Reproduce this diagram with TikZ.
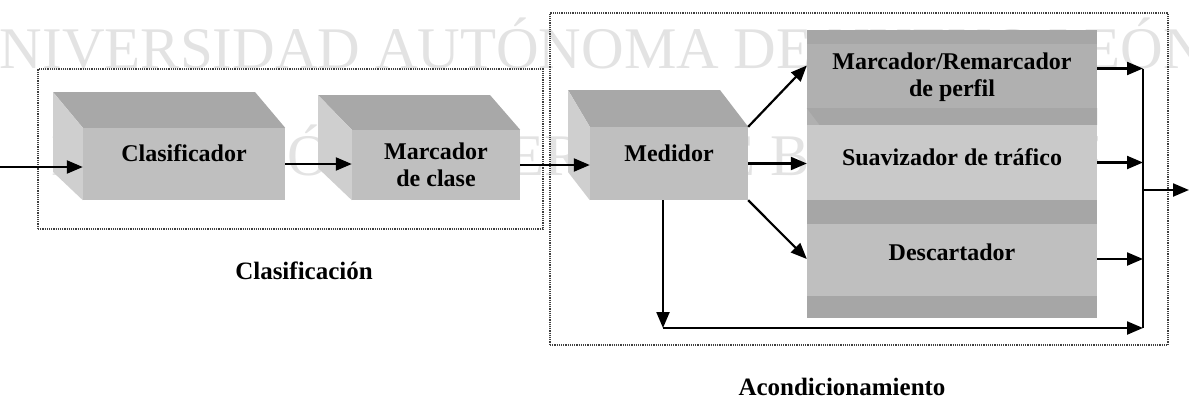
\documentclass[tikz,border=0pt]{standalone}
\usepackage{fontspec}
\setmainfont{Liberation Serif}
\usetikzlibrary{arrows.meta}

\tikzset{
  block/.style={fill=gray!50, inner sep=0pt, align=center,
    font=\bfseries\fontsize{24}{27}\selectfont},
  lift/.style={text height=16pt, text depth=#1},
  topface/.style={fill=gray!68},
  sideface/.style={fill=gray!38},
  darkband/.style={fill=gray!70},
  arr/.style={line width=2.2pt, -{Triangle[length=16pt,width=13pt]}},
  grpbox/.style={draw=black!75, densely dotted, line width=1.2pt, inner sep=0pt},
  capt/.style={font=\bfseries\fontsize{25}{29}\selectfont},
  watermark/.style={text=gray!22, inner sep=0pt, anchor=base west,
    font=\fontsize{59}{59}\selectfont}
}

\begin{document}
\begin{tikzpicture}[x=1pt, y=-1pt]
\useasboundingbox (0,0) rectangle (1189,402);
% scan watermark, behind everything
\begin{scope}
\clip (0,0) rectangle (1189,80);
\node[watermark] (wmtop) at (-43,68) {UNIVERSIDAD AUTÓNOMA DE NUEVO LEÓN};
\end{scope}
\begin{scope}
\clip (0,100) rectangle (1097,200);
\node[watermark] (wmbot) at (51,175) {DIRECCIÓN GENERAL DE BIBLIOTECAS};
\end{scope}

% dotted groups
\node[grpbox, minimum width=505pt, minimum height=160pt] (clasgrp) at (290.5,149) {};
\node[grpbox, minimum width=618pt, minimum height=332pt] (acondgrp) at (859,179) {};
\node[capt] (clascap) at (304,271) {Clasificación};
\node[capt] (acondcap) at (842,387) {Acondicionamiento};

% classifier
\node[block, lift=22pt, minimum width=202pt, minimum height=72pt] (clas) at (184,164) {Clasificador};
\fill[topface] (53,92) -- (255,92) -- (clas.north east) -- (clas.north west) -- cycle;
\fill[sideface] (53,92) -- (clas.north west) -- (clas.south west) -- (53,172) -- cycle;

% class marker
\node[block, minimum width=168pt, minimum height=70pt] (marc) at (436,165) {Marcador\\de clase};
\fill[topface] (318,95) -- (490,95) -- (marc.north east) -- (marc.north west) -- cycle;
\fill[sideface] (318,95) -- (marc.north west) -- (marc.south west) -- (318,168) -- cycle;

% meter
\node[block, lift=21pt, minimum width=158pt, minimum height=73pt] (med) at (669,163.5) {Medidor};
\fill[topface] (568,90) -- (720,90) -- (med.north east) -- (med.north west) -- cycle;
\fill[sideface] (568,90) -- (med.north west) -- (med.south west) -- (568,172) -- cycle;

% conditioners
\node[block, fill=gray!62, minimum width=290pt, minimum height=95pt] (perfil) at (952,77.5) {Marcador/Remarcador\\de perfil};
\fill[darkband] (perfil.north west) rectangle ([yshift=-14pt]perfil.north east);
\fill[darkband] ([yshift=17pt]perfil.south west) -- ([yshift=17pt]perfil.south east)
  -- (perfil.south east) -- ([xshift=13pt]perfil.south west) -- cycle;
\node[block, lift=11pt, fill=gray!42, minimum width=290pt, minimum height=75pt] (suav) at (952,162.5) {Suavizador de tráfico};
\node[block, lift=14pt, fill=gray!50, minimum width=290pt, minimum height=118pt] (desc) at (952,259) {Descartador};
\fill[darkband] (desc.north west) rectangle ([yshift=-24pt]desc.north east);
\fill[darkband] ([yshift=22pt]desc.south west) rectangle (desc.south east);

% connectors
\coordinate (in) at (0,167);
\coordinate (bus) at (1143,190);
\coordinate (out) at (1189,190);
\coordinate (down) at (663,328);
\coordinate (pout) at ([yshift=9pt]perfil.east);
\coordinate (pin) at ([yshift=12pt]perfil.west);
\draw[arr] (in) -- (in -| clas.west);
\draw[arr] (clas.east) -- (clas.east -| marc.west);
\draw[arr] (marc.east) -- (marc.east -| med.west);
\draw[arr] (med.north east) -- (pin);
\draw[arr] (med.east) -- (med.east -| suav.west);
\draw[arr] (med.south east) -- (desc.west);
\draw[arr] (med.south -| down) -- (down);
\draw[arr] (down) -- (down -| bus);
\draw[line width=2.2pt] (pout -| bus) -- (down -| bus);
\draw[arr] (pout) -- (pout -| bus);
\draw[arr] (suav.east) -- (suav.east -| bus);
\draw[arr] (desc.east) -- (desc.east -| bus);
\draw[arr] (bus) -- (out);
\end{tikzpicture}
\end{document}
